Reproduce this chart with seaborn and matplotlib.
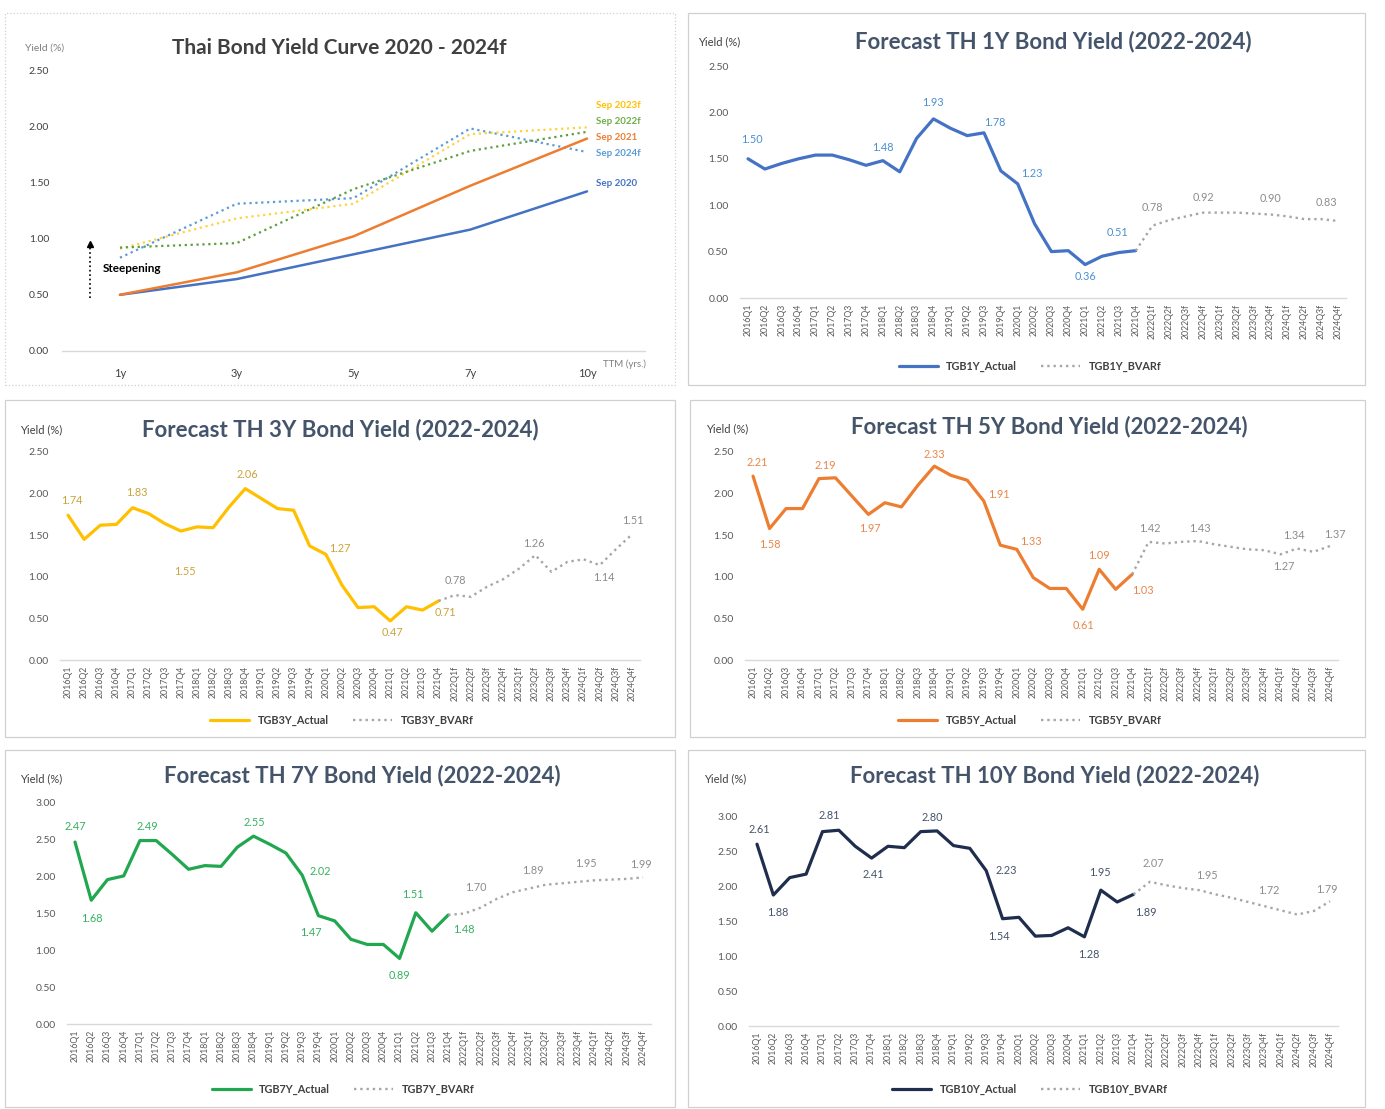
import matplotlib
matplotlib.use("Agg")
import numpy as np
import pandas as pd
import matplotlib.pyplot as plt
from matplotlib.patches import Rectangle
import seaborn as sns

# ---- data ----
tenors = ["1y", "3y", "5y", "7y", "10y"]
sep2020 = [0.50, 0.64, 0.86, 1.08, 1.42]
sep2021 = [0.50, 0.70, 1.02, 1.47, 1.89]
sep2022f = [0.92, 0.96, 1.44, 1.78, 1.95]
sep2023f = [0.91, 1.18, 1.31, 1.93, 1.99]
sep2024f = [0.83, 1.31, 1.36, 1.98, 1.77]

actual_quarters = [f"{y}Q{q}" for y in range(2016, 2022) for q in range(1, 5)]
forecast_quarters = [f"{y}Q{q}f" for y in range(2022, 2025) for q in range(1, 5)]
quarters = actual_quarters + forecast_quarters

tgb1y_actual = [1.50, 1.39, 1.45, 1.50, 1.54, 1.54, 1.49, 1.43, 1.48, 1.36, 1.72, 1.93,
                1.83, 1.75, 1.78, 1.37, 1.23, 0.80, 0.50, 0.51, 0.36, 0.45, 0.49, 0.51]
tgb1y_bvarf = [0.78, 0.84, 0.88, 0.92, 0.92, 0.92, 0.91, 0.90, 0.88, 0.85, 0.85, 0.83]

tgb3y_actual = [1.74, 1.45, 1.62, 1.63, 1.83, 1.76, 1.64, 1.55, 1.60, 1.59, 1.84, 2.06,
                1.94, 1.82, 1.80, 1.37, 1.27, 0.90, 0.63, 0.64, 0.47, 0.64, 0.60, 0.71]
tgb3y_bvarf = [0.78, 0.76, 0.88, 0.97, 1.10, 1.26, 1.06, 1.18, 1.21, 1.14, 1.33, 1.51]

tgb5y_actual = [2.21, 1.58, 1.82, 1.82, 2.18, 2.19, 1.97, 1.75, 1.89, 1.84, 2.10, 2.33,
                2.22, 2.16, 1.91, 1.38, 1.33, 0.99, 0.86, 0.86, 0.61, 1.09, 0.85, 1.03]
tgb5y_bvarf = [1.42, 1.40, 1.42, 1.43, 1.39, 1.36, 1.33, 1.32, 1.27, 1.34, 1.30, 1.37]

tgb7y_actual = [2.47, 1.68, 1.96, 2.01, 2.49, 2.49, 2.30, 2.10, 2.15, 2.14, 2.40, 2.55,
                2.44, 2.32, 2.02, 1.47, 1.40, 1.15, 1.08, 1.08, 0.89, 1.51, 1.26, 1.48]
tgb7y_bvarf = [1.50, 1.58, 1.70, 1.79, 1.84, 1.89, 1.91, 1.93, 1.95, 1.96, 1.97, 1.99]

tgb10y_actual = [2.61, 1.88, 2.13, 2.18, 2.79, 2.81, 2.58, 2.41, 2.58, 2.56, 2.79, 2.80,
                 2.59, 2.55, 2.23, 1.54, 1.56, 1.29, 1.30, 1.41, 1.28, 1.95, 1.78, 1.89]
tgb10y_bvarf = [2.07, 2.02, 1.98, 1.95, 1.89, 1.84, 1.78, 1.72, 1.66, 1.60, 1.65, 1.79]

# data labels shown on the chart: (quarter index, text, dx px, dy px)
labels_1y = [(0, "1.50", 4, 19), (8, "1.48", 0, 13), (11, "1.93", 0, 16), (14, "1.78", 11, 10),
             (16, "1.23", 14, 10), (20, "0.36", 0, -12), (23, "0.51", -18, 18),
             (24, "0.78", 0, 18), (27, "0.92", 0, 15), (31, "0.90", 0, 16), (34, "0.83", 5, 17)]
labels_3y = [(0, "1.74", 4, 15), (4, "1.83", 4, 15), (7, "1.55", 4, -40), (11, "2.06", 2, 14),
             (16, "1.27", 14, 6), (20, "0.47", 2, -12), (23, "0.71", 7, -12),
             (24, "0.78", 1, 15), (29, "1.26", -1, 12), (33, "1.14", 4, -12), (35, "1.51", 1, 14)]
labels_5y = [(0, "2.21", 4, 14), (1, "1.58", 0, -16), (5, "2.19", -10, 12), (7, "1.97", 1, -14),
             (11, "2.33", 0, 12), (14, "1.91", 15, 7), (16, "1.33", 14, 8), (20, "0.61", 1, -16),
             (21, "1.09", 0, 14), (23, "1.03", 11, -16),
             (24, "1.42", 1, 13), (27, "1.43", 2, 13), (32, "1.27", 3, -12), (33, "1.34", -3, 13),
             (35, "1.37", 5, 12)]
labels_7y = [(0, "2.47", 0, 16), (1, "1.68", 1, -18), (4, "2.49", 7, 14), (11, "2.55", 1, 14),
             (14, "2.02", 18, 4), (15, "1.47", -8, -17), (20, "0.89", 0, -17), (21, "1.51", -3, 18),
             (23, "1.48", 16, -15),
             (25, "1.70", -5, 20), (28, "1.89", 3, 18), (31, "1.95", 8, 18), (35, "1.99", -2, 13)]
labels_10y = [(0, "2.61", 2, 15), (1, "1.88", 4, -17), (5, "2.81", -10, 15), (7, "2.41", 2, -16),
              (11, "2.80", -5, 13), (14, "2.23", 20, 0), (15, "1.54", -4, -18), (20, "1.28", 4, -18),
              (21, "1.95", -1, 18), (23, "1.89", 12, -18),
              (24, "2.07", 3, 18), (27, "1.95", 8, 15), (31, "1.72", 4, 16), (35, "1.79", -3, 12)]

W, H = 1385, 1109
TITLE_C = "#44546A"
TICK_C = "#595959"
FC_C = "#A6A6A6"

sns.set_theme(style="white")
plt.rcParams["font.family"] = ["Lato", "DejaVu Sans"]

fig = plt.figure(figsize=(W / 100, H / 100), dpi=100, facecolor="white")


def px_rect(l, t, r, b):
    return [l / W, 1 - b / H, (r - l) / W, (b - t) / H]


def fig_text(x, y, s, **kw):
    fig.text(x / W, 1 - y / H, s, **kw)


def frame(l, t, r, b, ls="-"):
    fig.add_artist(Rectangle((l / W, 1 - b / H), (r - l) / W, (b - t) / H,
                             transform=fig.transFigure, fill=False,
                             edgecolor="#D0D0D0", linewidth=0.9, linestyle=ls))


def style_axes(ax, ymax):
    ax.set_ylim(0, ymax)
    ticks = np.arange(0, ymax + 0.01, 0.5)
    ax.set_yticks(ticks)
    ax.set_yticklabels([f"{t:.2f}" for t in ticks])
    for s in ["left", "right", "top"]:
        ax.spines[s].set_visible(False)
    ax.spines["bottom"].set_color("#D9D9D9")
    ax.spines["bottom"].set_linewidth(1.0)
    ax.set_xlabel("")
    ax.set_ylabel("")
    ax.set_facecolor("none")


def quarter_panel(rect, title, title_xy, ylab_xy, actual, fcst, color, lab_color,
                  name, ymax, labels, leg_xy):
    ax = fig.add_axes(px_rect(*rect))
    n = len(actual)
    dfa = pd.DataFrame({"q": np.arange(n), "y": actual})
    dff = pd.DataFrame({"q": np.arange(n - 1, n + len(fcst)), "y": [actual[-1]] + fcst})
    sns.lineplot(data=dfa, x="q", y="y", ax=ax, color=color, linewidth=2.3,
                 label=f"{name}_Actual")
    sns.lineplot(data=dff, x="q", y="y", ax=ax, color=FC_C, linewidth=1.7,
                 linestyle=":", label=f"{name}_BVARf")
    style_axes(ax, ymax)
    ax.set_xlim(-0.5, len(quarters) - 0.5)
    ax.set_xticks(np.arange(len(quarters)))
    ax.set_xticklabels(quarters, rotation=90, fontsize=6.3, color=TICK_C)
    ax.tick_params(axis="x", length=0, pad=4)
    ax.tick_params(axis="y", length=0, pad=8, labelsize=7.5, labelcolor=TICK_C)

    full = actual + fcst
    for i, txt, dx, dy in labels:
        c = lab_color if i < n else "#8C8C8C"
        ax.annotate(txt, (i, full[i]), xytext=(dx * 0.72, dy * 0.72),
                    textcoords="offset points", ha="center", va="center",
                    fontsize=7.8, color=c)

    l, t, r, b = rect
    leg = ax.legend(loc="center", bbox_to_anchor=((leg_xy[0] - l) / (r - l), (b - leg_xy[1]) / (b - t)),
                    ncol=2, frameon=False, fontsize=7.8, handlelength=3.6, columnspacing=2.2)
    for tx in leg.get_texts():
        tx.set_color("#404040")
        tx.set_fontweight("bold")

    fig_text(*title_xy, title, ha="center", va="center", fontsize=16,
             fontweight="bold", color=TITLE_C)
    fig_text(*ylab_xy, "Yield (%)", ha="left", va="center", fontsize=8, color="#404040")
    return ax


# ---- panel 1: yield curve ----
frame(5, 13, 675, 385, ls=":")
ax1 = fig.add_axes(px_rect(61.6, 70, 645.4, 351))
curve = pd.DataFrame({"tenor": np.arange(len(tenors)),
                      "Sep 2020": sep2020, "Sep 2021": sep2021, "Sep 2022f": sep2022f,
                      "Sep 2023f": sep2023f, "Sep 2024f": sep2024f})
curve_styles = {
    "Sep 2024f": ("#5B9BD5", ":", 1.6),
    "Sep 2023f": ("#FFD23F", ":", 1.6),
    "Sep 2022f": ("#5E9E3E", ":", 1.6),
    "Sep 2020": ("#4472C4", "-", 1.8),
    "Sep 2021": ("#ED7D31", "-", 1.8),
}
for key, (c, ls, lw) in curve_styles.items():
    sns.lineplot(data=curve, x="tenor", y=key, ax=ax1, color=c, linestyle=ls, linewidth=lw)
style_axes(ax1, 2.5)
ax1.set_xlim(-0.5, len(tenors) - 0.5)
ax1.set_xticks(np.arange(len(tenors)))
ax1.set_xticklabels(tenors, fontsize=8, color="#404040")
ax1.tick_params(axis="x", length=0, pad=12)
ax1.tick_params(axis="y", length=0, pad=9, labelsize=7.5, labelcolor="#404040")

end_labels = [("Sep 2023f", "#FFC000", 2.18), ("Sep 2022f", "#70AD47", 2.04),
              ("Sep 2021", "#ED7D31", 1.90), ("Sep 2024f", "#5B9BD5", 1.76),
              ("Sep 2020", "#4472C4", 1.49)]
for txt, c, yy in end_labels:
    ax1.text(4.077, yy, txt, ha="left", va="center", fontsize=7, color=c, fontweight="bold")

ax1.plot([-0.257, -0.257], [0.47, 0.93], color="black", linestyle=":", linewidth=1.2)
ax1.plot([-0.257], [0.955], marker="^", color="black", markersize=4.5)
ax1.text(-0.145, 0.73, "Steepening", ha="left", va="center", fontsize=8.5,
         fontweight="bold", color="black")
fig_text(339, 48, "Thai Bond Yield Curve 2020 - 2024f", ha="center", va="center",
         fontsize=15, fontweight="bold", color="#404040")
fig_text(25, 48, "Yield (%)", ha="left", va="center", fontsize=7.5, color="#7F7F7F")
fig_text(603, 364, "TTM (yrs.)", ha="left", va="center", fontsize=7, color="#7F7F7F")

# ---- quarterly forecast panels ----
frame(688, 13, 1365, 385)
quarter_panel((739.6, 66, 1346.4, 298), "Forecast TH 1Y Bond Yield (2022-2024)", (1053, 42),
              (698, 42), tgb1y_actual, tgb1y_bvarf, "#4472C4", "#4A8FD0", "TGB1Y", 2.5,
              labels_1y, (1030, 366))

frame(5, 400, 675, 737)
quarter_panel((60, 452, 640, 660), "Forecast TH 3Y Bond Yield (2022-2024)", (340, 430),
              (20, 430), tgb3y_actual, tgb3y_bvarf, "#FFC000", "#C9A43A", "TGB3Y", 2.5,
              labels_3y, (342, 720))

frame(690, 400, 1365, 737)
quarter_panel((744.8, 452, 1338.2, 660), "Forecast TH 5Y Bond Yield (2022-2024)", (1049, 427),
              (706, 429), tgb5y_actual, tgb5y_bvarf, "#ED7D31", "#E8864A", "TGB5Y", 2.5,
              labels_5y, (1030, 720))

frame(5, 750, 675, 1107)
quarter_panel((66.9, 803, 651.1, 1024), "Forecast TH 7Y Bond Yield (2022-2024)", (362, 776),
              (20, 779), tgb7y_actual, tgb7y_bvarf, "#21A74F", "#35B060", "TGB7Y", 3.0,
              labels_7y, (343, 1089))

frame(688, 750, 1365, 1107)
quarter_panel((748.8, 817, 1338.2, 1026), "Forecast TH 10Y Bond Yield (2022-2024)", (1055, 776),
              (704, 779), tgb10y_actual, tgb10y_bvarf, "#1F2D4E", "#44546A", "TGB10Y", 3.0,
              labels_10y, (1030, 1089))

fig.savefig("out.png", dpi=100, facecolor="white")
